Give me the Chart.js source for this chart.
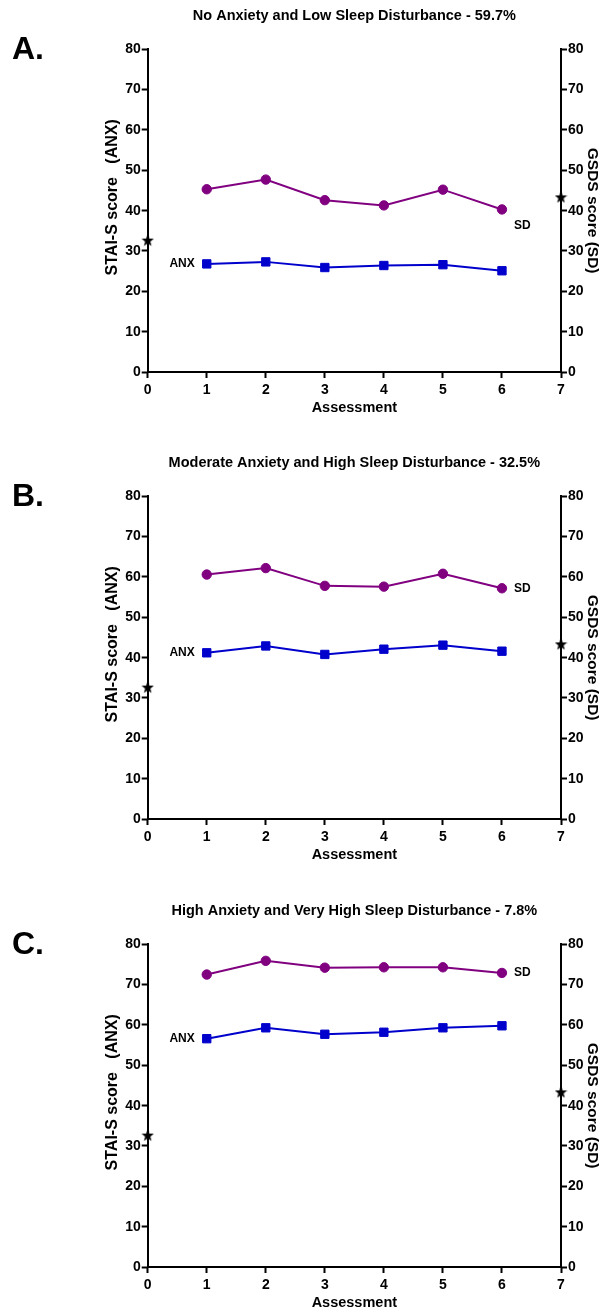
<!DOCTYPE html>
<html><head><meta charset="utf-8">
<script src="https://cdn.jsdelivr.net/npm/chart.js@4/dist/chart.umd.min.js"></script>
<style>
html,body{margin:0;padding:0;background:#fff;}
body{width:602px;height:1313px;position:relative;overflow:hidden;}
.panel{position:absolute;left:0;width:602px;height:447px;}
canvas{display:block;}
</style></head><body>
<div class="panel" style="top:0px"><canvas id="cA" width="602" height="447"></canvas></div>
<div class="panel" style="top:447px"><canvas id="cB" width="602" height="447"></canvas></div>
<div class="panel" style="top:895px"><canvas id="cC" width="602" height="447"></canvas></div>
<script>
// ---- data ----
const assessments = [1, 2, 3, 4, 5, 6];
const panelTitles = [
  'No Anxiety and Low Sleep Disturbance - 59.7%',
  'Moderate Anxiety and High Sleep Disturbance - 32.5%',
  'High Anxiety and Very High Sleep Disturbance - 7.8%'
];
const panelLetters = ['A.', 'B.', 'C.'];
const anxA = [26.8, 27.3, 25.9, 26.4, 26.6, 25.1];
const sdA  = [45.3, 47.7, 42.6, 41.3, 45.2, 40.3];
const anxB = [41.2, 42.9, 40.8, 42.1, 43.1, 41.6];
const sdB  = [60.6, 62.2, 57.8, 57.6, 60.8, 57.2];
const anxC = [56.6, 59.3, 57.7, 58.2, 59.3, 59.8];
const sdC  = [72.5, 75.9, 74.2, 74.3, 74.3, 72.9];
const anxNorm = 32.7;   // marker on STAI-S axis
const sdNorm = 43.4;    // marker on GSDS axis
const sdLabelLevel = [36.2, 57.2, 72.9];
const yMin = 0, yMax = 80, yStep = 10;
const xMin = 0, xMax = 7, xStep = 1;

const FONT = "'Liberation Sans', Arial, Helvetica, sans-serif";
Chart.defaults.font.family = FONT;
Chart.defaults.font.weight = 'bold';
Chart.defaults.color = '#000';

const PURPLE = '#800080';
const BLUE = '#0000CC';

function makeStar(size) {
  const c = document.createElement('canvas');
  c.width = size; c.height = size;
  const g = c.getContext('2d');
  g.fillStyle = '#000';
  g.beginPath();
  const cx = size / 2, cy = size / 2 + 0.6, R = size / 2, r = R * 0.42;
  for (let i = 0; i < 10; i++) {
    const a = -Math.PI / 2 + i * Math.PI / 5;
    const rr = i % 2 ? r : R;
    g.lineTo(cx + rr * Math.cos(a), cy + rr * Math.sin(a));
  }
  g.closePath(); g.fill();
  return c;
}
const starImg = makeStar(13);

const panelText = {
  id: 'panelText',
  afterDraw(chart, args, opts) {
    const {ctx, chartArea, scales} = chart;
    ctx.save();
    ctx.fillStyle = '#000';
    ctx.textBaseline = 'middle';
    ctx.textAlign = 'left';
    ctx.font = 'bold 32px ' + FONT;
    ctx.fillText(opts.letter, 12, chartArea.top + 1);
    ctx.font = 'bold 12px ' + FONT;
    const xs = scales.x;
    ctx.textAlign = 'right';
    ctx.fillText('ANX', xs.getPixelForValue(assessments[0]) - 12, scales.y.getPixelForValue(opts.anx[0]));
    ctx.textAlign = 'left';
    ctx.fillText('SD', xs.getPixelForValue(assessments[assessments.length - 1]) + 12, scales.y2.getPixelForValue(opts.sdLevel));
    ctx.restore();
  }
};

function axisCommon() {
  return {
    grid: {display: true, drawOnChartArea: false, drawTicks: true, tickLength: 6, tickWidth: 2, tickColor: '#000'},
    border: {display: true, color: '#000', width: 2}
  };
}

function build(id, idx, anx, sd) {
  const pts = arr => arr.map((v, i) => ({x: assessments[i], y: v}));
  new Chart(document.getElementById(id), {
    type: 'line',
    data: {
      datasets: [
        {label: 'SD', data: pts(sd), yAxisID: 'y2', borderColor: PURPLE, backgroundColor: PURPLE,
         borderWidth: 2, pointStyle: 'circle', pointRadius: 4.7, pointBorderWidth: 1, tension: 0, clip: false},
        {label: 'ANX', data: pts(anx), yAxisID: 'y', borderColor: BLUE, backgroundColor: BLUE,
         borderWidth: 2, pointStyle: 'rect', pointRadius: 5.9, pointBorderWidth: 1, tension: 0, clip: false},
        {label: 'ANX norm', data: [{x: xMin, y: anxNorm}], yAxisID: 'y', showLine: false,
         pointStyle: starImg, pointRadius: 6, clip: false},
        {label: 'SD norm', data: [{x: xMax, y: sdNorm}], yAxisID: 'y2', showLine: false,
         pointStyle: starImg, pointRadius: 6, clip: false}
      ]
    },
    options: {
      responsive: false, animation: false, events: [],
      layout: {padding: {left: 100, right: 0, top: 0, bottom: 0}},
      plugins: {
        legend: {display: false}, tooltip: {enabled: false},
        title: {display: true, text: panelTitles[idx], fullSize: false, color: '#000',
                font: {size: 14.5, weight: 'bold'}, padding: {top: 7.3, bottom: 24.6}},
        panelText: {letter: panelLetters[idx], anx: anx, sdLevel: sdLabelLevel[idx]}
      },
      scales: {
        x: Object.assign(axisCommon(), {
          type: 'linear', position: 'bottom', min: xMin, max: xMax,
          ticks: {stepSize: xStep, font: {size: 14, weight: 'bold'}, color: '#000', padding: 4, maxRotation: 0},
          title: {display: true, text: 'Assessment', color: '#000', font: {size: 14.5, weight: 'bold'}, padding: {top: 0, bottom: 30}},
          afterFit: s => { s.height = 75; }
        }),
        y: Object.assign(axisCommon(), {
          type: 'linear', position: 'left', min: yMin, max: yMax,
          ticks: {stepSize: yStep, font: {size: 14, weight: 'bold'}, color: '#000', padding: 1},
          title: {display: true, text: '      STAI-S score   (ANX)', color: '#000', font: {size: 16, weight: 'bold'}, padding: {top: 2.5, bottom: 0}},
          afterFit: s => { s.width = 47.7; }
        }),
        y2: Object.assign(axisCommon(), {
          type: 'linear', position: 'right', min: yMin, max: yMax,
          ticks: {stepSize: yStep, font: {size: 14, weight: 'bold'}, color: '#000', padding: 1},
          title: {display: true, text: 'GSDS score (SD)', color: '#000', font: {size: 15.5, weight: 'bold'}, padding: {top: 0, bottom: 0}},
          afterFit: s => { s.width = 41; }
        })
      }
    },
    plugins: [panelText]
  });
}
build('cA', 0, anxA, sdA);
build('cB', 1, anxB, sdB);
build('cC', 2, anxC, sdC);
</script>
</body></html>
